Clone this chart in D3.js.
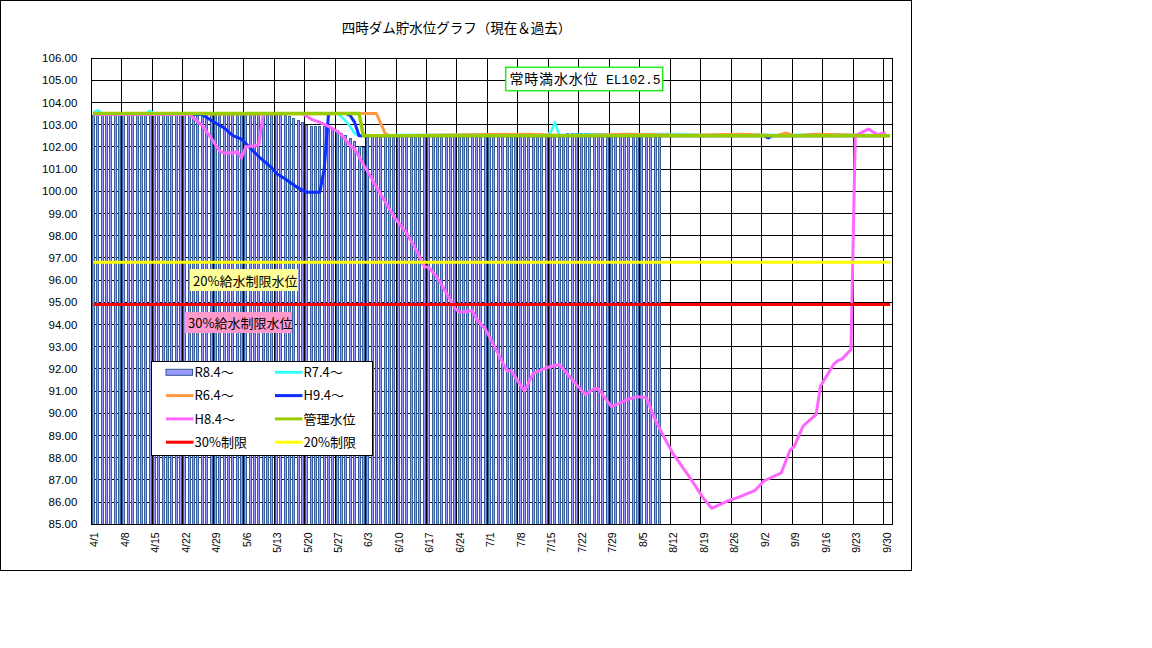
<!DOCTYPE html>
<html>
<head>
<meta charset="utf-8">
<script src="https://cdn.jsdelivr.net/npm/d3@7"></script>
<style>
  body { margin: 0; background: #fff; }
  svg text { font-family: "Noto Sans CJK JP", sans-serif; }
</style>
</head>
<body>
<svg id="chart"></svg>
<script>
// 四時ダム貯水位グラフ（現在＆過去）

// x-axis tick labels (every 7 days)
const tickDays = ["4/1", "4/8", "4/15", "4/22", "4/29", "5/6", "5/13", "5/20", "5/27",
    "6/3", "6/10", "6/17", "6/24", "7/1", "7/8", "7/15", "7/22", "7/29", "8/5",
    "8/12", "8/19", "8/26", "9/2", "9/9", "9/16", "9/23", "9/30"];

const yTicks = [85, 86, 87, 88, 89, 90, 91, 92, 93, 94, 95, 96, 97, 98, 99, 100,
    101, 102, 103, 104, 105, 106];

// R8.4〜 daily level, from 4/1 up to 8/9
const r8 = [
    103.45, 103.45, 103.45, 103.45, 103.45, 103.45, 103.45, 103.45, 103.45,
    103.45, 103.45, 103.45, 103.45, 103.45, 103.45, 103.45, 103.45, 103.45,
    103.45, 103.45, 103.45, 103.45, 103.45, 103.45, 103.45, 103.45, 103.45,
    103.45, 103.45, 103.45, 103.45, 103.45, 103.45, 103.45, 103.45, 103.45,
    103.45, 103.45, 103.45, 103.45, 103.45, 103.45, 103.45, 103.45, 103.45,
    103.40, 103.32, 103.20, 103.10, 103.00,
    102.95, 102.95, 102.95, 102.95, 102.95,
    102.85, 102.75, 102.63, 102.52, 102.40, 102.25, 102.05, 102.00,
    102.42, 102.42, 102.42, 102.42, 102.42, 102.42, 102.42, 102.42, 102.42, 102.42,
    102.42, 102.42, 102.42, 102.42, 102.42, 102.42, 102.42, 102.42, 102.42, 102.42,
    102.42, 102.42, 102.42, 102.42, 102.42, 102.42, 102.42, 102.42, 102.42, 102.42,
    102.42, 102.42, 102.42, 102.42, 102.42, 102.42, 102.42, 102.42, 102.42, 102.42,
    102.42, 102.42, 102.42, 102.42, 102.42, 102.42,
    102.62, 102.62, 102.62, 102.62, 102.62, 102.62, 102.62, 102.62,
    102.42, 102.42, 102.42, 102.42, 102.42, 102.42, 102.42, 102.42, 102.42, 102.42,
    102.42, 102.42, 102.42, 102.42
];

// past years: [day, level] vertices
const r7 = [["4/1", 103.55], ["4/2", 103.65], ["4/3", 103.5], ["4/13", 103.5], ["4/14", 103.62],
    ["4/15", 103.5], ["5/27", 103.5], ["5/28", 103.35], ["5/29", 103.15], ["5/30", 102.9],
    ["5/31", 102.6], ["6/1", 102.5], ["6/10", 102.53], ["7/5", 102.56], ["7/14", 102.53],
    ["7/15", 102.65], ["7/16", 103.1], ["7/17", 102.53], ["7/28", 102.57], ["8/12", 102.58],
    ["8/20", 102.53], ["8/26", 102.57], ["9/5", 102.53], ["9/18", 102.56], ["9/30", 102.52]];

const r6 = [["4/1", 103.45], ["6/4", 103.5], ["6/5", 103.5], ["6/7", 102.6], ["6/8", 102.5],
    ["7/10", 102.57], ["7/20", 102.5], ["8/1", 102.57], ["8/15", 102.52], ["8/28", 102.57],
    ["9/5", 102.5], ["9/7", 102.62], ["9/9", 102.5], ["9/14", 102.57], ["9/30", 102.5]];

const h9 = [["4/1", 103.5], ["4/26", 103.45], ["4/28", 103.2], ["5/1", 102.85], ["5/3", 102.5],
    ["5/5", 102.35], ["5/7", 101.95], ["5/9", 101.55], ["5/12", 101.05], ["5/13", 100.8],
    ["5/15", 100.56], ["5/18", 100.15], ["5/20", 99.95], ["5/23", 99.95], ["5/24", 101.0],
    ["5/25", 103.5], ["5/29", 103.5], ["5/30", 103.4], ["5/31", 103.1], ["6/1", 102.5],
    ["9/2", 102.5], ["9/3", 102.4], ["9/4", 102.5], ["9/30", 102.5]];

const h8 = [["4/1", 103.45], ["4/23", 103.45], ["4/24", 103.3], ["4/26", 102.95], ["4/28", 102.4],
    ["4/30", 101.8], ["5/1", 101.72], ["5/3", 101.72], ["5/4", 101.8], ["5/5", 101.5],
    ["5/6", 102.0], ["5/8", 102.05], ["5/9", 102.1], ["5/10", 103.5], ["5/19", 103.5],
    ["5/21", 103.25], ["5/23", 103.1], ["5/25", 102.92], ["5/27", 102.7], ["5/28", 102.54],
    ["5/30", 102.05], ["5/31", 101.9], ["6/2", 101.2], ["6/5", 100.2], ["6/9", 98.85],
    ["6/12", 98.1], ["6/14", 97.4], ["6/16", 96.6], ["6/17", 96.57], ["6/19", 96.1],
    ["6/22", 95.1], ["6/23", 94.74], ["6/24", 94.55], ["6/27", 94.62], ["6/28", 94.25],
    ["6/30", 93.8], ["7/5", 91.9], ["7/6", 91.9], ["7/9", 91.0], ["7/11", 91.8],
    ["7/14", 92.05], ["7/17", 92.2], ["7/20", 91.5], ["7/23", 90.85], ["7/25", 91.1],
    ["7/26", 91.1], ["7/29", 90.3], ["8/2", 90.65], ["8/4", 90.75], ["8/6", 90.7],
    ["8/8", 89.72], ["8/10", 88.95], ["8/12", 88.22], ["8/16", 87.1], ["8/19", 86.2],
    ["8/21", 85.72], ["8/25", 86.08], ["8/27", 86.2], ["8/31", 86.53], ["9/2", 86.95],
    ["9/6", 87.32], ["9/8", 88.33], ["9/9", 88.52], ["9/11", 89.42], ["9/14", 89.95],
    ["9/15", 91.22], ["9/18", 92.2], ["9/19", 92.37], ["9/20", 92.45], ["9/22", 92.87],
    ["9/23", 102.5], ["9/26", 102.8], ["9/28", 102.55], ["9/30", 102.65]];

const kanri = [["4/1", 103.5], ["6/1", 103.5], ["6/2", 102.5], ["10/1", 102.5]];
const limit30 = [["4/1", 94.9], ["10/1", 94.9]];
const limit20 = [["4/1", 96.8], ["10/1", 96.8]];

// daily categories 4/1 .. 10/1
const days = d3.timeDay.range(new Date(2025, 3, 1), new Date(2025, 9, 2))
    .map(d3.timeFormat("%-m/%-d"));

const series = [
    { name: "R7.4〜", color: "#33ffff", width: 2.5, data: r7 },
    { name: "R6.4〜", color: "#ff9944", width: 3, data: r6 },
    { name: "H9.4〜", color: "#0a2eff", width: 3, data: h9 },
    { name: "H8.4〜", color: "#ff66ff", width: 3, data: h8 },
    { name: "管理水位", color: "#99cc00", width: 3.5, data: kanri },
    { name: "30%制限", color: "#ff0000", width: 3, data: limit30 },
    { name: "20%制限", color: "#ffff00", width: 3, data: limit20 }
];

const W = 1152, H = 648;
const plot = { left: 91.3, right: 892.3, top: 58, bottom: 524.3 };

const svg = d3.select("#chart")
    .attr("width", W)
    .attr("height", H)
    .attr("viewBox", [0, 0, W, H]);

svg.append("rect")
    .attr("x", 0.5).attr("y", 0.5)
    .attr("width", 911).attr("height", 570)
    .attr("fill", "#fff")
    .attr("stroke", "#000");

const x = d3.scaleBand().domain(days).range([plot.left, plot.right]);
const cx = d => x(d) + x.bandwidth() / 2;
const y = d3.scaleLinear().domain([85, 106]).range([plot.bottom, plot.top]);

// horizontal gridlines (behind the bars)
svg.append("g")
    .attr("stroke", "#000")
    .attr("shape-rendering", "crispEdges")
    .selectAll("line")
    .data(yTicks)
    .join("line")
    .attr("x1", plot.left).attr("x2", plot.right)
    .attr("y1", d => y(d)).attr("y2", d => y(d));

// R8 bars: dark edge + light core, snapped to pixels
const bars = svg.append("g")
    .attr("shape-rendering", "crispEdges")
    .selectAll("g")
    .data(r8.map((v, i) => ({ day: days[i], v })))
    .join("g");

bars.append("rect")
    .attr("x", d => Math.round(cx(d.day) - 1.5))
    .attr("width", 3)
    .attr("y", d => Math.round(y(d.v)))
    .attr("height", d => plot.bottom - Math.round(y(d.v)))
    .attr("fill", "#38609a");

bars.append("rect")
    .attr("x", d => Math.round(cx(d.day) - 1.5) + 1)
    .attr("width", 1)
    .attr("y", d => Math.round(y(d.v)) + 1)
    .attr("height", d => plot.bottom - Math.round(y(d.v)) - 1)
    .attr("fill", "#9999ff");

// vertical gridlines
svg.append("g")
    .attr("stroke", "#000")
    .attr("shape-rendering", "crispEdges")
    .selectAll("line")
    .data(tickDays.map(d => x(d)).concat([plot.right]))
    .join("line")
    .attr("x1", d => d).attr("x2", d => d)
    .attr("y1", plot.top).attr("y2", plot.bottom);

const line = d3.line()
    .x(d => cx(d[0]))
    .y(d => y(d[1]));

svg.append("g")
    .attr("fill", "none")
    .attr("stroke-linejoin", "round")
    .selectAll("path")
    .data(series)
    .join("path")
    .attr("stroke", d => d.color)
    .attr("stroke-width", d => d.width)
    .attr("d", d => line(d.data));

// plot frame
svg.append("rect")
    .attr("x", plot.left).attr("y", plot.top)
    .attr("width", plot.right - plot.left).attr("height", plot.bottom - plot.top)
    .attr("fill", "none")
    .attr("stroke", "#000")
    .attr("shape-rendering", "crispEdges");

// axes
const yAxis = svg.append("g")
    .attr("transform", `translate(${plot.left},0)`)
    .call(d3.axisLeft(y).tickValues(yTicks).tickFormat(d3.format(".2f")).tickSize(0).tickPadding(14));
yAxis.select(".domain").remove();
yAxis.selectAll("text")
    .style("font-family", "'Liberation Sans', sans-serif")
    .style("font-size", "11.5px")
    .attr("fill", "#000");

const xAxis = svg.append("g")
    .attr("transform", `translate(0,${plot.bottom})`)
    .call(d3.axisBottom(x).tickValues(tickDays).tickSize(0));
xAxis.select(".domain").remove();
xAxis.selectAll("text")
    .attr("transform", "rotate(-90)")
    .attr("text-anchor", "end")
    .attr("x", -8)
    .attr("y", 0)
    .attr("dy", "0.45em")
    .style("font-family", "'Liberation Sans', sans-serif")
    .style("font-size", "10.5px")
    .attr("fill", "#000");

// title
svg.append("text")
    .attr("x", 456.5)
    .attr("y", 32.5)
    .attr("text-anchor", "middle")
    .style("font-size", "13.5px")
    .text("四時ダム貯水位グラフ（現在＆過去）");

// full water level note
svg.append("rect")
    .attr("x", 505.7).attr("y", 67.3)
    .attr("width", 157).attr("height", 23.4)
    .attr("fill", "#fff")
    .attr("stroke", "#22ee22")
    .attr("stroke-width", 1.5);
svg.append("text")
    .attr("x", 509.5).attr("y", 84)
    .style("font-size", "14px")
    .style("letter-spacing", "0.8px")
    .text("常時満水水位");
svg.append("text")
    .attr("x", 606).attr("y", 84)
    .style("font-family", "'Liberation Mono', monospace")
    .style("font-size", "13px")
    .text("EL102.5");

// restriction labels
svg.append("rect")
    .attr("x", 190).attr("y", 269)
    .attr("width", 108).attr("height", 22)
    .attr("fill", "#ffff99");
svg.append("text")
    .attr("x", 193).attr("y", 285.5)
    .style("font-size", "13px")
    .text("20%給水制限水位");

svg.append("rect")
    .attr("x", 185).attr("y", 312)
    .attr("width", 107).attr("height", 21)
    .attr("fill", "#ff99cc");
svg.append("text")
    .attr("x", 188).attr("y", 327.5)
    .style("font-size", "13px")
    .text("30%給水制限水位");

// legend
const legendItems = [{ name: "R8.4〜", bar: true }].concat(series);

const legend = svg.append("g");
legend.append("rect")
    .attr("x", 151.5).attr("y", 361.5)
    .attr("width", 221).attr("height", 94)
    .attr("fill", "#fff")
    .attr("stroke", "#000");

const item = legend.selectAll("g")
    .data(legendItems)
    .join("g")
    .attr("transform", (d, i) => `translate(${i % 2 ? 275 : 166},${372.3 + Math.floor(i / 2) * 23.3})`);

item.filter(d => d.bar).append("rect")
    .attr("x", 0).attr("y", -3)
    .attr("width", 26.5).attr("height", 6)
    .attr("fill", "#9999ff")
    .attr("stroke", "#335990");

item.filter(d => !d.bar).append("line")
    .attr("x1", 0).attr("x2", 27.5)
    .attr("stroke", d => d.color)
    .attr("stroke-width", 3);

item.append("text")
    .attr("x", 28.5)
    .attr("y", 4.6)
    .style("font-size", "13px")
    .text(d => d.name);
</script>
</body>
</html>
